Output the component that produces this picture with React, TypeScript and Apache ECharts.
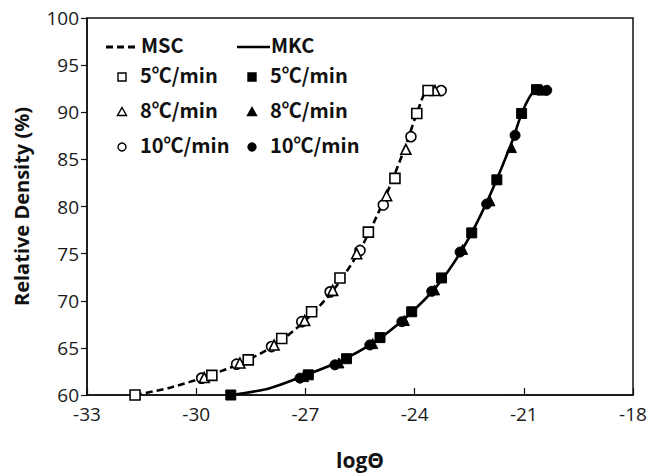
import React, { useEffect, useRef } from "react";
import * as echarts from "echarts";

// MSC (open markers)
const msc5X = [-31.68, -29.57, -28.57, -27.65, -26.83, -26.05, -25.27, -24.54, -23.94, -23.63];
const msc5Y = [60.0, 62.08, 63.73, 66.0, 68.83, 72.42, 77.28, 82.98, 89.87, 92.3];
const msc8X = [-29.78, -28.8, -27.86, -27.02, -26.25, -25.59, -24.77, -24.24, -23.44];
const msc8Y = [61.85, 63.4, 65.3, 67.9, 71.1, 74.99, 81.14, 86.07, 92.3];
const msc10X = [-29.85, -28.89, -27.93, -27.1, -26.32, -25.5, -24.86, -24.1, -23.27];
const msc10Y = [61.79, 63.27, 65.14, 67.78, 70.94, 75.34, 80.16, 87.41, 92.3];

// MKC (filled markers)
const mkc5X = [-29.05, -26.92, -25.87, -24.95, -24.08, -23.26, -22.43, -21.74, -21.06, -20.65];
const mkc5Y = [60.0, 62.14, 63.85, 66.09, 68.83, 72.42, 77.2, 82.83, 89.87, 92.4];
const mkc8X = [-27.05, -26.08, -25.15, -24.28, -23.45, -22.68, -21.93, -21.34, -20.5];
const mkc8Y = [61.95, 63.4, 65.45, 67.9, 71.15, 75.45, 80.6, 86.25, 92.35];
const mkc10X = [-27.15, -26.19, -25.23, -24.35, -23.53, -22.75, -22.02, -21.24, -20.37];
const mkc10Y = [61.79, 63.2, 65.31, 67.78, 71.0, 75.17, 80.26, 87.55, 92.33];

// fitted curves
const mscCurveX = [-31.68, -30.7, -29.7, -28.7, -27.8, -26.95, -26.2, -25.5, -24.85, -24.25, -23.9, -23.63, -23.27];
const mscCurveY = [60.0, 60.8, 62.0, 63.5, 65.4, 68.1, 71.3, 75.4, 80.6, 86.4, 90.3, 92.3, 92.3];
const mkcCurveX = [-29.05, -28.0, -27.1, -26.1, -25.15, -24.25, -23.4, -22.65, -22.0, -21.35, -21.0, -20.65, -20.37];
const mkcCurveY = [60.0, 60.7, 61.95, 63.5, 65.5, 68.2, 71.5, 75.7, 80.6, 86.6, 90.4, 92.35, 92.35];

const xTicks = { min: -33, max: -18, interval: 3 };
const yTicks = { min: 60, max: 100, interval: 5 };
const rateLabels = ["5℃/min", "8℃/min", "10℃/min"];
const curveLabels = ["MSC", "MKC"];

const zip = (xs: number[], ys: number[]) => xs.map((x, i) => [x, ys[i]]);
const FONT = "'Open Sans', Lato, 'Noto Sans', sans-serif";
const LFONT = "'Noto Sans CJK SC', 'Noto Sans', sans-serif";

export default function App() {
  const ref = useRef<HTMLDivElement>(null);
  useEffect(() => {
    if (!ref.current) return;
    const chart = echarts.init(ref.current, undefined, { renderer: "svg" });

    const openStyle = { color: "#fff", borderColor: "#000", borderWidth: 1.6, opacity: 1 };
    const fillStyle = { color: "#000", borderColor: "#000", borderWidth: 1, opacity: 1 };
    const scatter = (name: string, data: number[][], symbol: string, style: any, size: number) => ({
      name,
      type: "scatter",
      data,
      symbol,
      symbolSize: size,
      itemStyle: style,
      z: 5,
    });

    const legendText = (text: string, x: number, y: number) => ({
      type: "text",
      left: x,
      top: y - 13,
      style: { text, fontFamily: LFONT, fontSize: 20, fontWeight: "bold", fill: "#111" },
    });
    const tri = (cx: number, cy: number, fill: string) => ({
      type: "polygon",
      shape: { points: [[cx, cy - 4.5], [cx + 4.5, cy + 3.5], [cx - 4.5, cy + 3.5]] },
      style: { fill, stroke: "#000", lineWidth: 1.4 },
    });
    const sq = (cx: number, cy: number, fill: string) => ({
      type: "rect",
      shape: { x: cx - 4, y: cy - 4, width: 8, height: 8 },
      style: { fill, stroke: "#000", lineWidth: 1.4 },
    });
    const circ = (cx: number, cy: number, fill: string) => ({
      type: "circle",
      shape: { cx, cy, r: 4 },
      style: { fill, stroke: "#000", lineWidth: 1.4 },
    });

    const rows = [77, 112, 147];
    const c1 = 122, c2 = 252, t1 = 140, t2 = 270;

    chart.setOption({
      animation: false,
      backgroundColor: "#fff",
      grid: {
        left: 87, right: 20, top: 18, bottom: 78,
        show: true, borderColor: "#111", borderWidth: 1.5, backgroundColor: "transparent",
      },
      xAxis: {
        type: "value",
        min: xTicks.min, max: xTicks.max, interval: xTicks.interval,
        name: "logΘ",
        nameLocation: "middle",
        nameGap: 54,
        nameTextStyle: { fontFamily: FONT, fontSize: 21, fontWeight: "bold", color: "#111" },
        axisLine: { lineStyle: { color: "#111", width: 1.5 } },
        axisTick: { inside: true, length: 7, lineStyle: { color: "#111", width: 1.2 } },
        axisLabel: { fontFamily: FONT, fontSize: 19, color: "#1a1a1a", margin: 9 },
        splitLine: { show: false },
      },
      yAxis: {
        type: "value",
        min: yTicks.min, max: yTicks.max, interval: yTicks.interval,
        name: "Relative Density (%)",
        nameLocation: "middle",
        nameGap: 56,
        nameTextStyle: { fontFamily: FONT, fontSize: 20, fontWeight: "bold", color: "#111" },
        axisLine: { show: true, lineStyle: { color: "#111", width: 1.5 } },
        axisTick: { show: true, inside: false, length: 6, lineStyle: { color: "#111", width: 1.2 } },
        axisLabel: { fontFamily: FONT, fontSize: 19, color: "#1a1a1a", margin: 8 },
        splitLine: { show: false },
      },
      graphic: [
        { type: "line", shape: { x1: 106, y1: 47, x2: 136, y2: 47 }, style: { stroke: "#000", lineWidth: 3, lineDash: [7, 4] } },
        legendText(curveLabels[0], 141, 47),
        { type: "line", shape: { x1: 237, y1: 47, x2: 270, y2: 47 }, style: { stroke: "#000", lineWidth: 2.5 } },
        legendText(curveLabels[1], 271, 47),
        sq(c1, rows[0], "#fff"), legendText(rateLabels[0], t1, rows[0]),
        sq(c2, rows[0], "#000"), legendText(rateLabels[0], t2, rows[0]),
        tri(c1, rows[1], "#fff"), legendText(rateLabels[1], t1, rows[1]),
        tri(c2, rows[1], "#000"), legendText(rateLabels[1], t2, rows[1]),
        circ(c1, rows[2], "#fff"), legendText(rateLabels[2], t1, rows[2]),
        circ(c2, rows[2], "#000"), legendText(rateLabels[2], t2, rows[2]),
      ],
      series: [
        {
          name: "MSC", type: "line", data: zip(mscCurveX, mscCurveY), smooth: 0.3, symbol: "none",
          lineStyle: { color: "#000", width: 2.6, type: [7, 4] }, z: 2,
        },
        {
          name: "MKC", type: "line", data: zip(mkcCurveX, mkcCurveY), smooth: 0.3, symbol: "none",
          lineStyle: { color: "#000", width: 2.6 }, z: 2,
        },
        scatter("MSC 10", zip(msc10X, msc10Y), "circle", openStyle, 10),
        scatter("MSC 8", zip(msc8X, msc8Y), "triangle", openStyle, 10),
        scatter("MSC 5", zip(msc5X, msc5Y), "rect", openStyle, 10),
        scatter("MKC 10", zip(mkc10X, mkc10Y), "circle", fillStyle, 10),
        scatter("MKC 8", zip(mkc8X, mkc8Y), "triangle", fillStyle, 10),
        scatter("MKC 5", zip(mkc5X, mkc5Y), "rect", fillStyle, 10),
      ],
    });
    return () => chart.dispose();
  }, []);
  return <div ref={ref} style={{ width: 653, height: 475, position: "absolute", left: 0, top: 0 }} />;
}
